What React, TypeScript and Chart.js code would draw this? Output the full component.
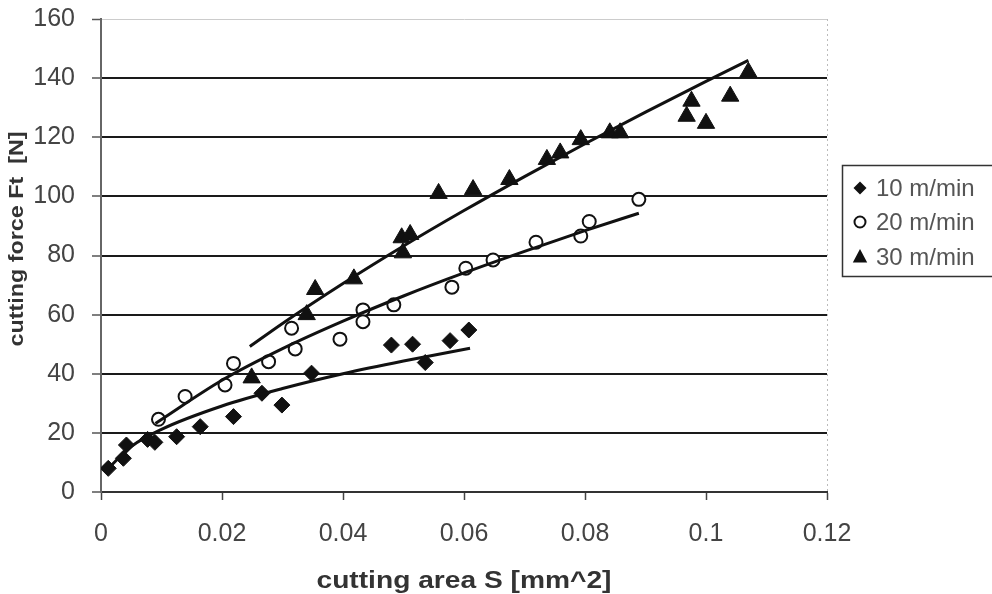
import React, { useEffect, useRef } from 'react';
import { Chart, registerables } from 'chart.js';

Chart.register(...registerables);

// ---- data ----
const seriesLabels = ['10 m/min', '20 m/min', '30 m/min'];
const xAxisTitle = 'cutting area S [mm^2]';
const yAxisTitle = 'cutting force Ft  [N]';

const xTickValues = [0, 0.02, 0.04, 0.06, 0.08, 0.1, 0.12];
const xTickLabels = ['0', '0.02', '0.04', '0.06', '0.08', '0.1', '0.12'];
const yTickValues = [0, 20, 40, 60, 80, 100, 120, 140, 160];
const yTickLabels = ['0', '20', '40', '60', '80', '100', '120', '140', '160'];

const speed10X = [0.0012, 0.0037, 0.0042, 0.0077, 0.0089, 0.0125, 0.0164, 0.0219, 0.0266, 0.0299, 0.0348, 0.048, 0.0515, 0.0536, 0.0577, 0.0608];
const speed10Y = [8.0, 11.4, 15.9, 17.8, 16.8, 18.7, 22.1, 25.5, 33.4, 29.4, 40.2, 49.7, 50.0, 43.8, 51.2, 54.8];

const speed20X = [0.0095, 0.0139, 0.0205, 0.0219, 0.0277, 0.0315, 0.0321, 0.0395, 0.0433, 0.0433, 0.0484, 0.058, 0.0603, 0.0648, 0.0719, 0.0793, 0.0807, 0.0889];
const speed20Y = [24.6, 32.3, 36.2, 43.5, 44.1, 55.4, 48.4, 51.7, 61.6, 57.6, 63.3, 69.3, 75.7, 78.5, 84.5, 86.6, 91.5, 99.0];

const speed30X = [0.0249, 0.034, 0.0354, 0.0418, 0.0497, 0.0499, 0.0511, 0.0558, 0.0615, 0.0675, 0.0737, 0.0759, 0.0793, 0.0841, 0.0858, 0.0968, 0.0976, 0.1, 0.104, 0.107];
const speed30Y = [38.6, 60.0, 68.5, 72.1, 86.0, 80.9, 87.1, 101.0, 102.3, 105.7, 112.5, 114.7, 119.2, 121.5, 121.5, 127.1, 132.2, 124.7, 133.9, 142.0];

// trend lines
const trend10X = [0.0012, 0.005, 0.01, 0.02, 0.03, 0.04, 0.05, 0.061];
const trend10Y = [8.0, 15.4, 21.2, 29.1, 35.0, 40.0, 44.3, 48.6];
const trend20X = [0.009, 0.02, 0.03, 0.04, 0.05, 0.06, 0.07, 0.08, 0.0889];
const trend20Y = [23.2, 37.8, 48.5, 57.8, 66.3, 74.1, 81.4, 88.4, 94.3];
const trend30X = [0.0246, 0.03, 0.04, 0.05, 0.06, 0.07, 0.08, 0.09, 0.1, 0.107];
const trend30Y = [49.2, 57.0, 70.5, 83.2, 95.2, 106.7, 117.8, 128.5, 138.9, 146.0];

const toPoints = (xs: number[], ys: number[]) => xs.map((x, i) => ({ x, y: ys[i] }));

const markerStyles = ['diamond', 'circle', 'triangle'];

function drawMarker(ctx: CanvasRenderingContext2D, kind: string, x: number, y: number, r: number) {
  ctx.save();
  ctx.beginPath();
  if (kind === 'diamond') {
    ctx.moveTo(x, y - r);
    ctx.lineTo(x + r, y);
    ctx.lineTo(x, y + r);
    ctx.lineTo(x - r, y);
    ctx.closePath();
    ctx.fillStyle = '#111';
    ctx.fill();
  } else if (kind === 'circle') {
    ctx.arc(x, y, r, 0, Math.PI * 2);
    ctx.fillStyle = '#fff';
    ctx.fill();
    ctx.lineWidth = 2;
    ctx.strokeStyle = '#111';
    ctx.stroke();
  } else {
    ctx.moveTo(x, y - r);
    ctx.lineTo(x + r * 0.9, y + r * 0.7);
    ctx.lineTo(x - r * 0.9, y + r * 0.7);
    ctx.closePath();
    ctx.fillStyle = '#111';
    ctx.fill();
  }
  ctx.restore();
}

const decorPlugin = {
  id: 'decor',
  beforeDatasetsDraw(chart: any) {
    const { ctx, chartArea } = chart;
    ctx.save();
    ctx.strokeStyle = '#bbbbbb';
    ctx.lineWidth = 1;
    ctx.setLineDash([2, 3]);
    ctx.beginPath();
    ctx.moveTo(chartArea.right + 0.5, chartArea.top);
    ctx.lineTo(chartArea.right + 0.5, chartArea.bottom);
    ctx.stroke();
    ctx.restore();
  },
  afterDraw(chart: any) {
    const { ctx, chartArea } = chart;
    // y title
    ctx.save();
    ctx.fillStyle = '#333';
    ctx.font = 'bold 21px "Liberation Sans", Arial, sans-serif';
    const yw = ctx.measureText(yAxisTitle).width;
    ctx.translate(23, 239);
    ctx.rotate(-Math.PI / 2);
    ctx.scale(215 / yw, 1);
    ctx.textAlign = 'center';
    ctx.textBaseline = 'alphabetic';
    ctx.fillText(yAxisTitle, 0, 0);
    ctx.restore();
    // x title
    ctx.save();
    ctx.fillStyle = '#333';
    ctx.font = 'bold 23px "Liberation Sans", Arial, sans-serif';
    const xw = ctx.measureText(xAxisTitle).width;
    ctx.translate((chartArea.left + chartArea.right) / 2, 588);
    ctx.scale(295 / xw, 1);
    ctx.textAlign = 'center';
    ctx.textBaseline = 'alphabetic';
    ctx.fillText(xAxisTitle, 0, 0);
    ctx.restore();
    // legend
    ctx.save();
    ctx.strokeStyle = '#333';
    ctx.lineWidth = 1.5;
    ctx.strokeRect(842.5, 165.5, 170, 111);
    const rows = [188, 222, 257];
    const radii = [6.5, 5.5, 8];
    ctx.font = '24px "Liberation Sans", Arial, sans-serif';
    ctx.textAlign = 'left';
    ctx.textBaseline = 'middle';
    seriesLabels.forEach((lab, i) => {
      drawMarker(ctx, markerStyles[i], 860, rows[i], radii[i]);
      ctx.fillStyle = '#555';
      ctx.fillText(lab, 876, rows[i] + 1);
    });
    ctx.restore();
  },
};

export default function App() {
  const ref = useRef<HTMLCanvasElement | null>(null);

  useEffect(() => {
    const canvas = ref.current;
    if (!canvas) return;
    const tickFont = { family: '"Liberation Sans", Arial, sans-serif', size: 25 };
    const trendBase = {
      type: 'line',
      showLine: true,
      borderColor: '#111',
      borderWidth: 3,
      pointRadius: 0,
      fill: false,
      cubicInterpolationMode: 'monotone',
      order: 0,
    };
    const chart = new Chart(canvas, {
      type: 'scatter',
      data: {
        datasets: [
          { ...trendBase, label: seriesLabels[0] + ' trend', data: toPoints(trend10X, trend10Y) } as any,
          { ...trendBase, label: seriesLabels[1] + ' trend', data: toPoints(trend20X, trend20Y) } as any,
          { ...trendBase, label: seriesLabels[2] + ' trend', data: toPoints(trend30X, trend30Y) } as any,
          {
            label: seriesLabels[0],
            data: toPoints(speed10X, speed10Y),
            pointStyle: 'rectRot',
            pointRadius: 8,
            backgroundColor: '#111',
            borderColor: '#111',
            pointBorderWidth: 1,
            order: 1,
          },
          {
            label: seriesLabels[1],
            data: toPoints(speed20X, speed20Y),
            pointStyle: 'circle',
            pointRadius: 6.5,
            backgroundColor: '#fff',
            borderColor: '#111',
            pointBorderWidth: 2,
            order: 1,
          },
          {
            label: seriesLabels[2],
            data: toPoints(speed30X, speed30Y),
            pointStyle: 'triangle',
            pointRadius: 10,
            backgroundColor: '#111',
            borderColor: '#111',
            pointBorderWidth: 1,
            order: 1,
          },
        ],
      },
      options: {
        animation: false,
        responsive: false,
        events: [],
        layout: { padding: { top: 19, right: 165, left: 0, bottom: 0 } },
        plugins: { legend: { display: false }, tooltip: { enabled: false } },
        scales: {
          x: {
            type: 'linear',
            min: 0,
            max: 0.12,
            afterBuildTicks: (s: any) => {
              s.ticks = xTickValues.map((v) => ({ value: v }));
            },
            afterFit: (s: any) => {
              s.height = 102;
              s.paddingLeft = 0;
              s.paddingRight = 0;
            },
            ticks: {
              callback: (_v: any, i: number) => xTickLabels[i],
              font: tickFont,
              color: '#444',
              padding: 19,
              maxRotation: 0,
              autoSkip: false,
            },
            grid: { drawOnChartArea: false, drawTicks: true, tickLength: 8, tickColor: '#444', tickWidth: 1.5 },
            border: { display: true, color: '#333', width: 2 },
          },
          y: {
            type: 'linear',
            min: 0,
            max: 160,
            afterBuildTicks: (s: any) => {
              s.ticks = yTickValues.map((v) => ({ value: v }));
            },
            afterFit: (s: any) => {
              s.width = 101;
              s.paddingTop = 0;
              s.paddingBottom = 0;
            },
            ticks: {
              callback: (_v: any, i: number) => yTickLabels[i],
              font: tickFont,
              color: '#444',
              padding: 17,
              autoSkip: false,
            },
            grid: {
              drawOnChartArea: true,
              drawTicks: true,
              tickLength: 9,
              tickColor: '#555',
              tickWidth: 1.5,
              color: (c: any) => (c.tick && c.tick.value === 160 ? '#cccccc' : '#1a1a1a'),
              lineWidth: (c: any) => (c.tick && c.tick.value === 160 ? 1 : 2),
            },
            border: { display: true, color: '#666', width: 2 },
          },
        },
      } as any,
      plugins: [decorPlugin],
    });
    return () => chart.destroy();
  }, []);

  return (
    <div style={{ position: 'absolute', left: 0, top: 0, width: 992, height: 594, background: '#fff' }}>
      <canvas ref={ref} width={992} height={594} style={{ display: 'block', width: 992, height: 594 }} />
    </div>
  );
}
